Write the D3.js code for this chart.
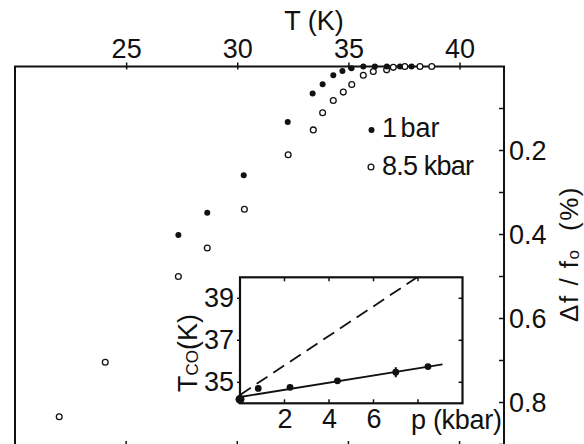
<!DOCTYPE html>
<html><head><meta charset="utf-8">
<script src="https://cdn.jsdelivr.net/npm/d3@7"></script>
<style>
html,body{margin:0;padding:0;background:#fff;}
svg{display:block;}
text{font-family:"Liberation Sans",Arial,sans-serif;fill:#111;}
</style></head>
<body><svg id="c" width="584" height="444"></svg>
<script>
// ---- data ----
const tTicks = [25, 30, 35, 40];
const vTickLabels = [0.2, 0.4, 0.6, 0.8];
const vMinorTicks = [0.1, 0.2, 0.3, 0.4, 0.5, 0.6, 0.7, 0.8, 0.9];
const T_1bar = [27.35, 28.65, 30.29, 32.27, 33.39, 33.84, 34.32, 34.73, 35.14, 35.67, 36.19, 36.73, 37.32, 37.84];
const v_1bar = [0.401, 0.348, 0.259, 0.132, 0.064, 0.042, 0.021, 0.011, 0.004, 0, 0, 0, 0, 0];
const T_85 = [21.99, 24.06, 27.35, 28.65, 30.32, 32.29, 33.42, 33.84, 34.32, 34.77, 35.15, 35.67, 36.12, 36.72, 37.02, 37.54, 38.22, 38.75];
const v_85 = [0.834, 0.704, 0.500, 0.432, 0.340, 0.210, 0.151, 0.110, 0.081, 0.061, 0.043, 0.021, 0.012, 0.008, 0.002, 0, 0, 0];
// inset
const pTicks = [2, 4, 6, 8];
const tcTicks = [35, 37, 39];
const p_pts = [0, 0.82, 2.25, 4.38, 7.0, 8.45];
const tc_pts = [34.19, 34.71, 34.76, 35.07, 35.48, 35.75];
const errP = [7.0];
const errLo = [35.24];
const errHi = [35.72];
const fitP = [0, 9.1];
const fitT = [34.3, 35.85];
const dashP = [0, 7.96];
const dashT = [34.4, 40];

const svg = d3.select("#c");
const ink = "#111";

// ---- main scales ----
const x = d3.scaleLinear().domain([20, 42]).range([15, 504]);
const y = d3.scaleLinear().domain([0, 0.9]).range([66.5, 444.5]);
const frameBottom = 449;

// frame
svg.append("rect").attr("x", x(20)).attr("y", y(0))
  .attr("width", x(42) - x(20)).attr("height", frameBottom - y(0))
  .attr("fill", "none").attr("stroke", ink).attr("stroke-width", 2);

// top axis
const topAxis = d3.axisTop(x).tickValues(tTicks).tickSize(4).tickPadding(5).tickFormat(d3.format("d"));
const gTop = svg.append("g").attr("transform", `translate(0,${y(0)})`).call(topAxis);
gTop.select(".domain").remove();
gTop.selectAll("line").attr("stroke", ink).attr("stroke-width", 1.5).attr("y2", -4).attr("y1", 3);
gTop.selectAll("text").attr("font-size", 27).attr("fill", ink).attr("dy", "0");

// bottom ticks
svg.append("g").selectAll("line").data(tTicks).join("line")
  .attr("x1", d => x(d)).attr("x2", d => x(d))
  .attr("y1", frameBottom).attr("y2", frameBottom - 8)
  .attr("stroke", ink).attr("stroke-width", 1.5);

// right axis
const rightAxis = d3.axisRight(y).tickValues(vTickLabels).tickSize(0).tickPadding(5).tickFormat(d3.format(".1f"));
const gR = svg.append("g").attr("transform", `translate(${x(42)},0)`).call(rightAxis);
gR.select(".domain").remove();
gR.selectAll("text").attr("font-size", 27).attr("fill", ink);
svg.append("g").selectAll("line").data(vMinorTicks).join("line")
  .attr("x1", x(42)).attr("x2", x(42) - 5)
  .attr("y1", d => y(d)).attr("y2", d => y(d))
  .attr("stroke", ink).attr("stroke-width", 1.5);

// axis titles
svg.append("text").attr("x", 314).attr("y", 30).attr("text-anchor", "middle")
  .attr("font-size", 27).attr("xml:space", "preserve").text("T (K)");

const rt = svg.append("text").attr("transform", "translate(578,254) rotate(-90)")
  .attr("text-anchor", "middle").attr("font-size", 26).attr("letter-spacing", 1.5)
  .attr("xml:space", "preserve");
rt.append("tspan").text("Δf / f");
rt.append("tspan").attr("font-size", 17).attr("dy", 1).text("o");
rt.append("tspan").attr("dy", -1).text("  (%)");

// data: 8.5 kbar open circles
svg.append("g").selectAll("circle").data(T_85.map((t, i) => [t, v_85[i]])).join("circle")
  .attr("cx", d => x(d[0])).attr("cy", d => y(d[1])).attr("r", 2.9)
  .attr("fill", "#fff").attr("stroke", ink).attr("stroke-width", 1.3);
// 1 bar filled
svg.append("g").selectAll("circle").data(T_1bar.map((t, i) => [t, v_1bar[i]])).join("circle")
  .attr("cx", d => x(d[0])).attr("cy", d => y(d[1])).attr("r", 3)
  .attr("fill", ink);

// legend
svg.append("circle").attr("cx", 371.5).attr("cy", 130).attr("r", 3).attr("fill", ink);
svg.append("text").attr("x", 382).attr("y", 137).attr("font-size", 27).attr("word-spacing", -4).text("1 bar");
svg.append("circle").attr("cx", 371).attr("cy", 167).attr("r", 2.9).attr("fill", "#fff").attr("stroke", ink).attr("stroke-width", 1.3);
svg.append("text").attr("x", 382).attr("y", 175).attr("font-size", 27).attr("letter-spacing", -0.8).text("8.5 kbar");

// ---- inset ----
const px = d3.scaleLinear().domain([0, 10]).range([240, 462.5]);
const ty = d3.scaleLinear().domain([34, 40]).range([403.3, 277.3]);

svg.append("rect").attr("x", px(0)).attr("y", ty(40))
  .attr("width", px(10) - px(0)).attr("height", ty(34) - ty(40))
  .attr("fill", "#fff").attr("stroke", ink).attr("stroke-width", 2.2);

// inset ticks
const gI = svg.append("g").attr("stroke", ink).attr("stroke-width", 1.5);
gI.selectAll(".lt").data(tcTicks).join("line").attr("class", "lt")
  .attr("x1", px(0) - 3).attr("x2", px(0)).attr("y1", d => ty(d)).attr("y2", d => ty(d));
gI.selectAll(".rt").data(tcTicks).join("line").attr("class", "rt")
  .attr("x1", px(10)).attr("x2", px(10) - 4).attr("y1", d => ty(d)).attr("y2", d => ty(d));
gI.selectAll(".bt").data(pTicks).join("line").attr("class", "bt")
  .attr("x1", d => px(d)).attr("x2", d => px(d)).attr("y1", ty(34)).attr("y2", ty(34) - 4);
gI.selectAll(".tt").data(pTicks).join("line").attr("class", "tt")
  .attr("x1", d => px(d)).attr("x2", d => px(d)).attr("y1", ty(40)).attr("y2", ty(40) + 4);

const gIL = d3.axisLeft(ty).tickValues(tcTicks).tickSize(0).tickPadding(6).tickFormat(d3.format("d"));
const gil = svg.append("g").attr("transform", `translate(${px(0)},0)`).call(gIL);
gil.select(".domain").remove();
gil.selectAll("text").attr("font-size", 27).attr("fill", ink);

const gIB = d3.axisBottom(px).tickValues([2, 4, 6]).tickSize(0).tickPadding(6).tickFormat(d3.format("d"));
const gib = svg.append("g").attr("transform", `translate(0,${ty(34)})`).call(gIB);
gib.select(".domain").remove();
gib.selectAll("text").attr("font-size", 27).attr("fill", ink);

svg.append("text").attr("x", 411).attr("y", 429).attr("font-size", 27)
  .attr("xml:space", "preserve").attr("letter-spacing", -0.3).text("p (kbar)");

const tco = svg.append("text").attr("transform", "translate(197,392) rotate(-90)").attr("font-size", 27);
tco.append("tspan").text("T");
tco.append("tspan").attr("font-size", 17).attr("dy", 1).text("CO");
tco.append("tspan").attr("dy", -1).text("(K)");

// lines
const line = d3.line().x(d => px(d[0])).y(d => ty(d[1]));
svg.append("path").datum(dashP.map((p, i) => [p, dashT[i]])).attr("d", line)
  .attr("fill", "none").attr("stroke", ink).attr("stroke-width", 1.8).attr("stroke-dasharray", "13,7");
svg.append("path").datum(fitP.map((p, i) => [p, fitT[i]])).attr("d", line)
  .attr("fill", "none").attr("stroke", ink).attr("stroke-width", 1.8);
svg.append("g").selectAll("line").data(errP.map((p, i) => [p, errLo[i], errHi[i]])).join("line")
  .attr("x1", d => px(d[0])).attr("x2", d => px(d[0]))
  .attr("y1", d => ty(d[1])).attr("y2", d => ty(d[2]))
  .attr("stroke", ink).attr("stroke-width", 2);
svg.append("g").selectAll("circle").data(p_pts.map((p, i) => [p, tc_pts[i]])).join("circle")
  .attr("cx", d => px(d[0])).attr("cy", d => ty(d[1]))
  .attr("r", (d, i) => i === 0 ? 4.5 : 3.4).attr("fill", ink);
</script></body></html>
